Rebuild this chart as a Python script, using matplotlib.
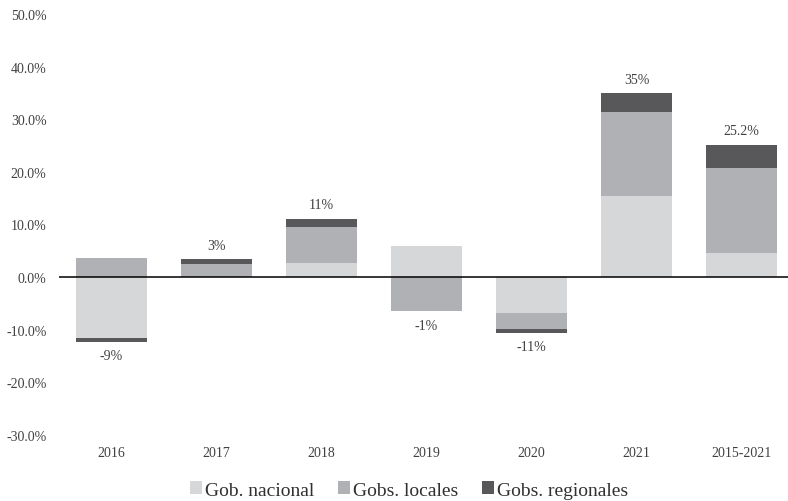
import matplotlib
matplotlib.use("Agg")
import matplotlib.pyplot as plt
import numpy as np

categories = ["2016", "2017", "2018", "2019", "2020", "2021", "2015-2021"]
gob_nacional = [-11.6, 0.0, 2.7, 5.9, -6.8, 15.5, 4.6]
gobs_locales = [3.6, 2.5, 6.9, -6.5, -3.0, 15.9, 16.2]
gobs_regionales = [-0.7, 0.9, 1.5, 0.0, -0.8, 3.6, 4.4]
label_decimals = [0, 0, 0, 0, 0, 0, 1]
series_names = ["Gob. nacional", "Gobs. locales", "Gobs. regionales"]
colors = ["#D6D7D9", "#B0B1B4", "#58585A"]

plt.rcParams["font.family"] = ["Liberation Serif", "DejaVu Serif"]

fig = plt.figure(figsize=(7.88, 5.02), dpi=100)
ax = fig.add_axes([59 / 788, 1 - 436 / 502, 1 - 59 / 788, (436 - 15) / 502])

x = np.arange(len(categories))
width = 0.675
series = [gob_nacional, gobs_locales, gobs_regionales]

pos_base = np.zeros(len(categories))
neg_base = np.zeros(len(categories))
handles = []
for vals, name, col in zip(series, series_names, colors):
    vals = np.array(vals, dtype=float)
    base = np.where(vals >= 0, pos_base, neg_base)
    b = ax.bar(x, vals, width, bottom=base, color=col, label=name, linewidth=0)
    handles.append(b)
    pos_base = pos_base + np.where(vals >= 0, vals, 0)
    neg_base = neg_base + np.where(vals < 0, vals, 0)

totals = np.sum(series, axis=0)
for i, (t, d) in enumerate(zip(totals, label_decimals)):
    txt = f"{t:.{d}f}%"
    if t >= 0:
        y, off = pos_base[i], 10
    else:
        y, off = neg_base[i], -10
    ax.annotate(txt, (x[i], y), xytext=(0, off), textcoords="offset points",
                ha="center", va="center", fontsize=10, color="#404040")

ax.axhline(0, color="black", linewidth=1.1, zorder=3)

ax.set_ylim(-30, 50)
ax.set_yticks(np.arange(-30, 51, 10))
ax.set_yticklabels([f"{v:.1f}%" for v in np.arange(-30, 51, 10)], fontsize=10, color="#404040")
ax.set_xlim(-0.5, 6.5 - 6 / 105)
ax.set_xticks(x)
ax.set_xticklabels(categories, fontsize=10, color="#404040")
ax.tick_params(axis="both", length=0)
ax.tick_params(axis="y", pad=9)
ax.tick_params(axis="x", pad=8)
for s in ax.spines.values():
    s.set_visible(False)

fig.legend(handles=handles, labels=series_names, loc="center",
           bbox_to_anchor=(409 / 788, 1 - 491 / 502), ncol=3, frameon=False,
           fontsize=14, handlelength=0.65, handleheight=0.65, handletextpad=0.15,
           columnspacing=1.2, labelcolor="#303030")

fig.savefig("out.png", dpi=100)
